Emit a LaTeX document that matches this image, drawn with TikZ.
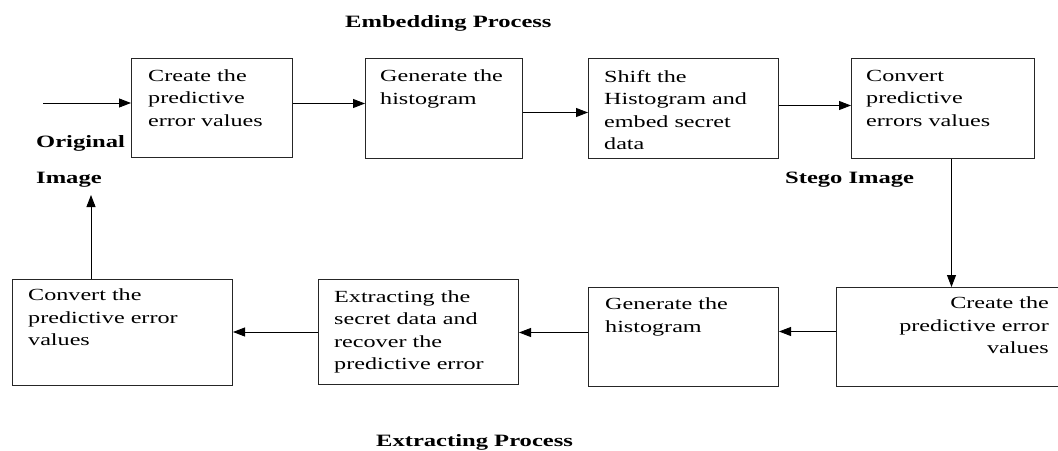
\documentclass[tikz,border=0pt]{standalone}
\usepackage{fontspec}
\setmainfont{Liberation Serif}[FakeStretch=1.42]
\usetikzlibrary{arrows.meta}

\begin{document}
\begin{tikzpicture}[
  x=1pt, y=-1pt,
  box/.style={draw=black!85, line width=1pt, anchor=north west, inner sep=0pt},
  txt/.style={anchor=north west, inner sep=0pt, align=left, font=\fontsize{17}{22.5}\selectfont},
  lbl/.style={anchor=base west, inner sep=0pt, font=\fontsize{17.3}{20}\selectfont\bfseries},
  arr/.style={-{Triangle[length=12pt, width=9pt]}, line width=0.9pt}
]
  \useasboundingbox (0,0) rectangle (1058,450);

  % --- Embedding Process ---
  \node[lbl] (emb) at (345,27) {Embedding Process};

  \node[box, minimum width=161pt, minimum height=99pt] (b1) at (131,58) {};
  \node[box, minimum width=157pt, minimum height=100pt] (b2) at (365,58) {};
  \node[box, minimum width=190pt, minimum height=100pt] (b3) at (588,58) {};
  \node[box, minimum width=183pt, minimum height=100pt] (b4) at (851,58) {};

  \node[txt] (t1) at ([shift={(17pt,-11.5pt)}]b1.north west) {Create the\\predictive\\error values};
  \node[txt] (t2) at ([shift={(15pt,-12pt)}]b2.north west) {Generate the\\histogram};
  \node[txt] (t3) at ([shift={(16pt,-12pt)}]b3.north west) {Shift the\\Histogram and\\embed secret\\data};
  \node[txt] (t4) at ([shift={(15pt,-12pt)}]b4.north west) {Convert\\predictive\\errors values};

  \node[lbl] (orig) at (36,147) {Original};
  \node[lbl] (origimg) at (36,183) {Image};
  \node[lbl] (stego) at (785,183) {Stego Image};

  \coordinate (in) at (43,103);
  \draw[arr] (in) -- (in -| b1.west);
  \draw[arr] ([yshift=4.5pt]b1.east) -- ([yshift=4.5pt]b1.east -| b2.west);
  \draw[arr] ([yshift=-4pt]b2.east) -- ([yshift=-4pt]b2.east -| b3.west);
  \draw[arr] ([yshift=3pt]b3.east) -- ([yshift=3pt]b3.east -| b4.west);

  % --- Extracting Process ---
  \node[box, minimum width=226pt, minimum height=99pt] (b5) at (836,287) {};
  \node[box, minimum width=190pt, minimum height=99pt] (b6) at (588,287) {};
  \node[box, minimum width=200pt, minimum height=105pt] (b7) at (318,279) {};
  \node[box, minimum width=220pt, minimum height=106pt] (b8) at (12,279) {};

  \node[txt, anchor=north east, align=right] (t5) at ([shift={(-14pt,-10pt)}]b5.north east) {Create the\\predictive error\\values};
  \node[txt] (t6) at ([shift={(17pt,-11pt)}]b6.north west) {Generate the\\histogram};
  \node[txt] (t7) at ([shift={(16pt,-11pt)}]b7.north west) {Extracting the\\secret data and\\recover the\\predictive error};
  \node[txt] (t8) at ([shift={(16pt,-10pt)}]b8.north west) {Convert the\\predictive error\\values};

  \node[lbl] (ext) at (376,446) {Extracting Process};

  \draw[arr] ([xshift=8.5pt]b4.south) -- ([xshift=8.5pt]b4.south |- b5.north);
  \draw[arr] ([yshift=5.5pt]b5.west) -- ([yshift=5.5pt]b5.west -| b6.east);
  \draw[arr] ([yshift=4.5pt]b6.west) -- ([yshift=4.5pt]b6.west -| b7.east);
  \draw[arr] (b7.west) -- (b7.west -| b8.east);
  \coordinate (out) at (91,195);
  \draw[arr] (b8.north -| out) -- (out);
\end{tikzpicture}
\end{document}
